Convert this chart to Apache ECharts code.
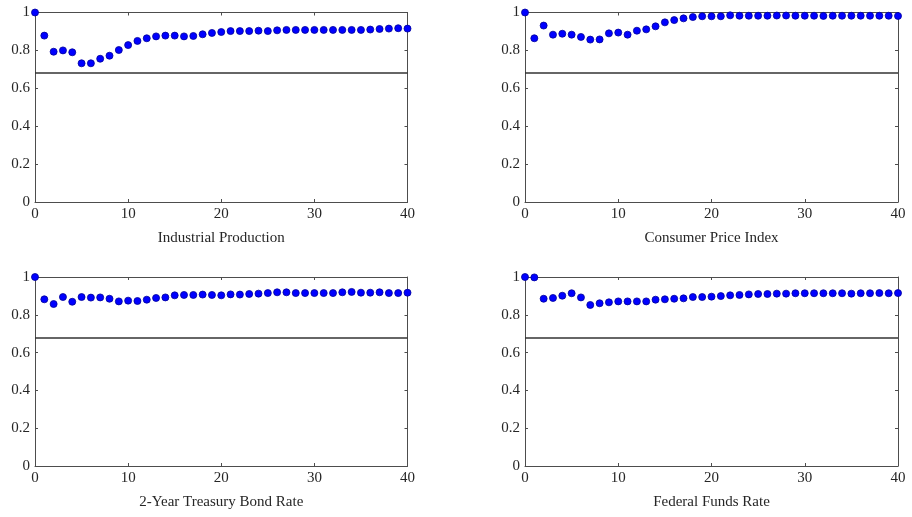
<!DOCTYPE html>
<html>
<head>
<meta charset="utf-8">
<script src="https://cdn.jsdelivr.net/npm/echarts@6/dist/echarts.min.js"></script>
<style>
  html, body { margin: 0; padding: 0; background: #fff; }
  #chart { width: 912px; height: 517px; }
</style>
</head>
<body>
<div id="chart"></div>
<script>
// Horizons 0..40
const horizons = Array.from({ length: 41 }, (_, i) => i);

const industrialProduction = [
  1.000, 0.878, 0.793, 0.800, 0.790, 0.732, 0.732, 0.756, 0.772, 0.802,
  0.828, 0.850, 0.864, 0.874, 0.878, 0.878, 0.874, 0.876, 0.885, 0.892,
  0.897, 0.902, 0.902, 0.902, 0.904, 0.902, 0.906, 0.908, 0.908, 0.908,
  0.908, 0.908, 0.908, 0.908, 0.908, 0.908, 0.910, 0.913, 0.915, 0.917,
  0.915
];

const consumerPriceIndex = [
  1.000, 0.864, 0.931, 0.883, 0.888, 0.883, 0.871, 0.857, 0.858, 0.890,
  0.894, 0.883, 0.904, 0.911, 0.927, 0.948, 0.960, 0.969, 0.976, 0.980,
  0.980, 0.980, 0.985, 0.983, 0.983, 0.983, 0.983, 0.984, 0.984, 0.983,
  0.983, 0.983, 0.982, 0.983, 0.983, 0.983, 0.983, 0.983, 0.983, 0.983,
  0.982
];

const treasuryBondRate = [
  1.000, 0.882, 0.857, 0.894, 0.869, 0.894, 0.891, 0.892, 0.885, 0.871,
  0.875, 0.873, 0.880, 0.889, 0.892, 0.903, 0.905, 0.905, 0.907, 0.905,
  0.903, 0.908, 0.907, 0.910, 0.912, 0.915, 0.919, 0.919, 0.915, 0.915,
  0.915, 0.915, 0.915, 0.919, 0.921, 0.917, 0.917, 0.919, 0.915, 0.915,
  0.917
];

const federalFundsRate = [
  1.000, 0.998, 0.885, 0.889, 0.901, 0.914, 0.892, 0.852, 0.861, 0.866,
  0.871, 0.871, 0.871, 0.871, 0.880, 0.882, 0.885, 0.887, 0.894, 0.894,
  0.896, 0.899, 0.903, 0.905, 0.908, 0.910, 0.910, 0.912, 0.912, 0.914,
  0.914, 0.914, 0.914, 0.914, 0.914, 0.912, 0.914, 0.914, 0.915, 0.914,
  0.915
];

const panelTitles = [
  'Industrial Production',
  'Consumer Price Index',
  '2-Year Treasury Bond Rate',
  'Federal Funds Rate'
];
const panelValues = [industrialProduction, consumerPriceIndex, treasuryBondRate, federalFundsRate];
const referenceLevel = 0.68;

const xTicks = { min: 0, max: 40, interval: 10 };
const yTicks = { min: 0, max: 1, interval: 0.2 };

const gridBoxes = [
  { left: 35, top: 12.5, width: 372.5, height: 189.5 },
  { left: 525, top: 12.5, width: 373, height: 189.5 },
  { left: 35, top: 277, width: 372.5, height: 189 },
  { left: 525, top: 277, width: 373, height: 189 }
];

const FONT = 'Liberation Serif';
const AXIS_COLOR = '#4d4d4d';
const textStyle = { fontFamily: FONT, fontSize: 15, color: '#262626' };

const grid = [], xAxis = [], yAxis = [], series = [];

panelTitles.forEach((title, i) => {
  grid.push(Object.assign({ containLabel: false }, gridBoxes[i]));

  const axisLine = { show: true, onZero: false, lineStyle: { color: AXIS_COLOR, width: 1 } };
  const axisTick = { show: true, inside: true, length: 3, lineStyle: { color: AXIS_COLOR, width: 1 } };

  // bottom axis with labels and name
  xAxis.push({
    type: 'value', gridIndex: i, position: 'bottom',
    min: xTicks.min, max: xTicks.max, interval: xTicks.interval,
    name: title, nameLocation: 'middle', nameGap: 29,
    nameTextStyle: textStyle,
    axisLine, axisTick,
    axisLabel: Object.assign({ margin: 5 }, textStyle),
    splitLine: { show: false }
  });
  // top edge of the box
  xAxis.push({
    type: 'value', gridIndex: i, position: 'top',
    min: xTicks.min, max: xTicks.max, interval: xTicks.interval,
    axisLine, axisTick, axisLabel: { show: false }, splitLine: { show: false }
  });
  // left axis with labels
  yAxis.push({
    type: 'value', gridIndex: i, position: 'left',
    min: yTicks.min, max: yTicks.max, interval: yTicks.interval,
    axisLine, axisTick,
    axisLabel: Object.assign({ margin: 5 }, textStyle),
    splitLine: { show: false }
  });
  // right edge of the box
  yAxis.push({
    type: 'value', gridIndex: i, position: 'right',
    min: yTicks.min, max: yTicks.max, interval: yTicks.interval,
    axisLine, axisTick, axisLabel: { show: false }, splitLine: { show: false }
  });

  series.push({
    type: 'scatter',
    xAxisIndex: i * 2,
    yAxisIndex: i * 2,
    data: horizons.map((h, k) => [h, panelValues[i][k]]),
    symbol: 'circle',
    symbolSize: 7,
    clip: false,
    itemStyle: { color: '#0000ff', borderColor: '#000099', borderWidth: 0.8, opacity: 1 },
    emphasis: { disabled: true },
    silent: true,
    z: 3,
    markLine: {
      silent: true,
      symbol: 'none',
      label: { show: false },
      lineStyle: { color: '#333', width: 1.5, type: 'solid', opacity: 1 },
      data: [{ yAxis: referenceLevel }],
      z: 2
    }
  });
});

const chart = echarts.init(document.getElementById('chart'), null, { renderer: 'canvas' });
chart.setOption({
  animation: false,
  backgroundColor: '#ffffff',
  grid, xAxis, yAxis, series
});
</script>
</body>
</html>
